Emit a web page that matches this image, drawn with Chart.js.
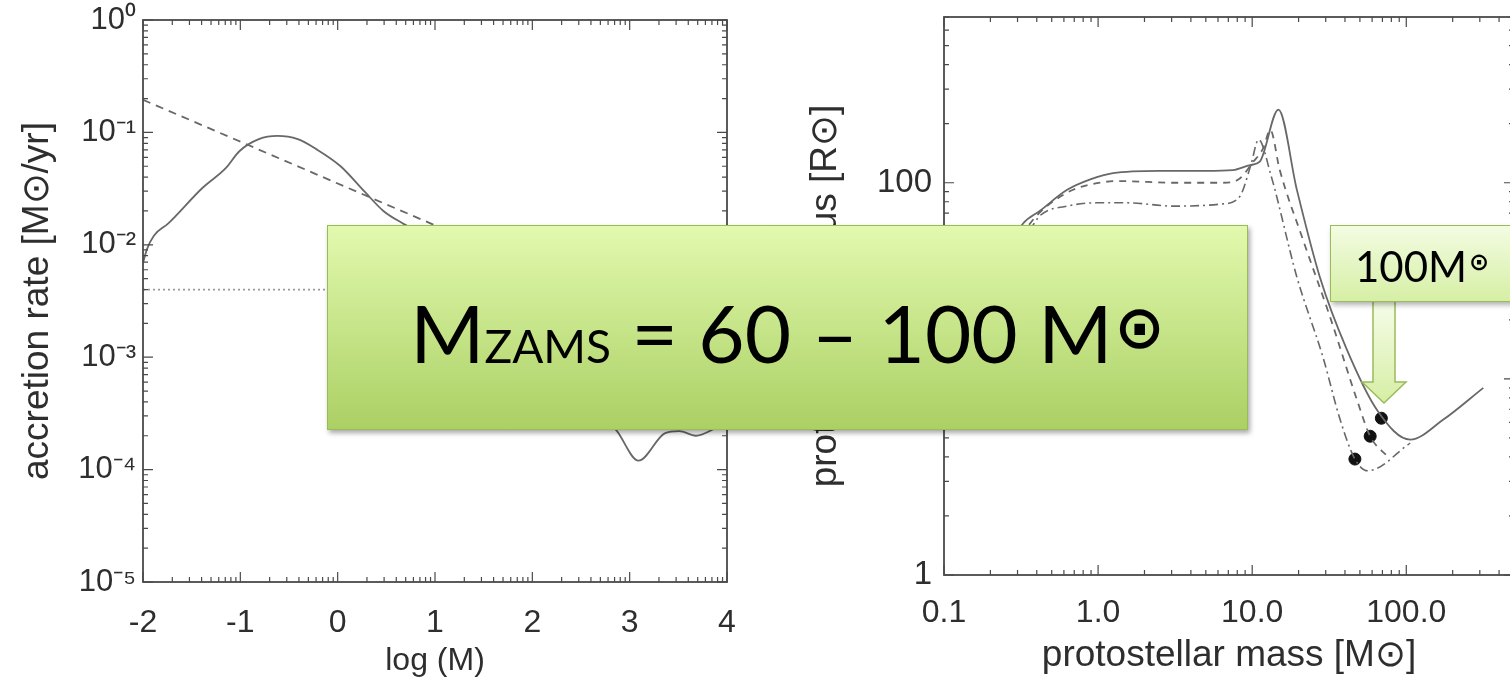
<!DOCTYPE html>
<html>
<head>
<meta charset="utf-8">
<script src="https://cdn.jsdelivr.net/npm/chart.js@4.4.1/dist/chart.umd.min.js"></script>
<style>
  html, body { margin: 0; padding: 0; background: #fff; }
  body { width: 1510px; height: 686px; overflow: hidden; position: relative; }
  #leftWrap { position: absolute; left: 0; top: 0; width: 760px; height: 686px; }
  #rightWrap { position: absolute; left: 760px; top: 0; width: 860px; height: 686px; }
  #big {
    position: absolute; left: 327px; top: 225px; width: 921px; height: 205px;
    box-sizing: border-box; border: 1.5px solid #9bbb59;
    background: linear-gradient(#e2f9ae, #abd064);
    box-shadow: 2px 3px 5px rgba(0,0,0,0.35); z-index: 5;
  }
  #big .txt {
    position: absolute; left: 0; right: 0; top: 66px; text-align: center;
    font-family: Lato, 'Open Sans', sans-serif; font-size: 80px; line-height: 80px;
    white-space: nowrap; color: #000;
  }
  #big .zams { font-size: 46px; }
  #big .sun { font-family: 'DejaVu Sans', sans-serif; font-weight: bold; font-size: 60px; position: relative; top: -15px; margin-left: 2px; }
  #small {
    position: absolute; left: 1330px; top: 225px; width: 200px; height: 77px;
    box-sizing: border-box; border: 1.5px solid #9bbb59;
    background: linear-gradient(#f3fce2, #d6efa5);
    box-shadow: 2px 3px 5px rgba(0,0,0,0.3); z-index: 6;
  }
  #small .txt {
    position: absolute; left: 24px; top: 19px;
    font-family: Lato, 'Open Sans', sans-serif; font-size: 42px; line-height: 42px;
    white-space: nowrap; color: #000;
  }
  #small .sun { font-family: 'DejaVu Sans', sans-serif; font-weight: bold; font-size: 24px; position: relative; top: -12px; margin-left: 2px; }
  #arrow { position: absolute; left: 0; top: 0; width: 1510px; height: 686px; z-index: 4; pointer-events: none; }
</style>
</head>
<body>
<div id="leftWrap"><canvas id="accretion"></canvas></div>
<div id="rightWrap"><canvas id="radius"></canvas></div>

<svg id="arrow" width="1510" height="686">
  <defs>
    <linearGradient id="ag" x1="0" y1="0" x2="0" y2="1">
      <stop offset="0" stop-color="#f6fdea"/>
      <stop offset="1" stop-color="#d6eea4"/>
    </linearGradient>
  </defs>
  <polygon points="1373,300 1395,300 1395,382 1406,382 1384,403 1362,382 1373,382"
           fill="url(#ag)" stroke="#9bbb59" stroke-width="1.5"/>
</svg>

<div id="big"><div class="txt"><span>M</span><span class="zams">ZAMS</span><span> = 60 – 100 M</span><span class="sun">⊙</span></div></div>
<div id="small"><div class="txt">100M<span class="sun">⊙</span></div></div>

<script>
// left panel: accretion rate vs log(M)
const accLogM = [-2.0, -1.96, -1.89, -1.74, -1.39, -1.15, -1.01, -0.81, -0.62, -0.41, -0.22, 0.03, 0.28, 0.47, 0.67,
                 1.0, 1.5, 2.0, 2.5, 2.87, 3.09, 3.36, 3.51, 3.68, 3.91, 4.0];
const accRate = [6.9e-3, 9.1e-3, 1.2e-2, 1.55e-2, 3.2e-2, 4.8e-2, 6.8e-2, 8.7e-2, 9.3e-2, 8.7e-2, 7.1e-2, 5.0e-2, 2.95e-2, 2.0e-2, 1.55e-2,
                 1.1e-2, 4.5e-3, 1.6e-3, 5.0e-4, 2.2e-4, 1.2e-4, 2.1e-4, 2.2e-4, 2.0e-4, 2.4e-4, 2.6e-4];
const fitLogM = [-2, 4];
const fitRate = [0.195, 1.14e-3];
const constLogM = [-2, 4];
const constRate = [4e-3, 4e-3];

const leftXTicks = [-2, -1, 0, 1, 2, 3, 4];
const leftYTicks = [1e-5, 1e-4, 1e-3, 1e-2, 1e-1, 1];
const leftYLabels = ['10⁻⁵', '10⁻⁴', '10⁻³', '10⁻²', '10⁻¹', '10⁰'];

// right panel: protostellar radius vs mass
const solidMass = [0.1, 0.15, 0.2, 0.26, 0.326, 0.42, 0.63, 0.89, 1.25, 2.5, 5.0, 7.5, 9.7, 11.2, 14.8, 19.5, 27.5, 40.7, 64.9, 106, 174, 316];
const solidRad  = [12, 20, 31, 46, 62, 72, 92, 104, 112, 115, 115, 116, 123, 128, 236, 92, 33, 14.4, 6.9, 4.9, 6.2, 9.0];
const dashMass = [0.1, 0.2, 0.3, 0.4, 0.63, 0.89, 1.38, 3.09, 6.46, 8.3, 10.0, 11.8, 13.1, 15.1, 21.4, 32, 47.9, 58.3, 76];
const dashRad  = [11, 28, 50, 68, 89, 98, 102, 100, 100, 105, 126, 150, 186, 116, 51, 20.7, 7.8, 5.1, 4.0];
const dotDashMass = [0.1, 0.2, 0.3, 0.36, 0.42, 0.63, 0.98, 1.55, 3.09, 6.46, 8.3, 9.8, 11.0, 13.2, 19.5, 28.8, 37.2, 46.4, 56.2, 106];
const dotDashRad  = [10, 25, 45, 57, 68, 76, 79, 79, 76, 78, 85, 123, 166, 110, 33, 12.9, 6.2, 3.9, 3.4, 4.7];
const markMass = [68.9, 58.3, 46.4];
const markRad  = [6.3, 5.1, 3.9];

const rightXTicks = [0.1, 1, 10, 100];
const rightXLabels = ['0.1', '1.0', '10.0', '100.0'];
const rightYTicks = [1, 10, 100];
const rightYLabels = ['1', '10', '100'];

const pts = (xs, ys) => xs.map((x, i) => ({ x: x, y: ys[i] }));
const logMinor = (lo, hi, top) => {
    const out = [];
    for (let d = lo; d < hi; d *= 10) for (let k = 2; k <= 9; k++) if (d * k <= top) out.push(d * k);
    return out;
};
const labelFor = (ticks, labels) => v => labels[ticks.findIndex(t => Math.abs(Math.log10(t) - Math.log10(v)) < 1e-6)];

const lineColor = '#686868';
const txtColor = '#2e2e2e';
const FONT = "'Liberation Sans', Arial, sans-serif";

// inward IDL-style ticks on all four sides plus the frame
const frameTicks = {
    id: 'frameTicks',
    afterDatasetsDraw(chart, args, o) {
        const { ctx, chartArea: a } = chart;
        const xs = chart.scales.x, ys = chart.scales.y;
        ctx.save();
        ctx.strokeStyle = '#4a4a4a';
        ctx.lineWidth = 1.2;
        ctx.beginPath();
        const doX = (list, len) => list.forEach(v => {
            const p = xs.getPixelForValue(v);
            if (p < a.left - 0.5 || p > a.right + 0.5) return;
            ctx.moveTo(p, a.bottom); ctx.lineTo(p, a.bottom - len);
            ctx.moveTo(p, a.top); ctx.lineTo(p, a.top + len);
        });
        const doY = (list, len) => list.forEach(v => {
            const p = ys.getPixelForValue(v);
            if (p < a.top - 0.5 || p > a.bottom + 0.5) return;
            ctx.moveTo(a.left, p); ctx.lineTo(a.left + len, p);
            ctx.moveTo(a.right, p); ctx.lineTo(a.right - len, p);
        });
        doX(o.xMajor, 10); doX(o.xMinor, 5);
        doY(o.yMajor, 10); doY(o.yMinor, 5);
        ctx.stroke();
        ctx.lineWidth = 1.8;
        ctx.strokeRect(a.left, a.top, a.right - a.left, a.bottom - a.top);
        ctx.restore();
    }
};

const leftXMinor = [];
for (let i = -2; i < 4; i++) for (let k = 2; k <= 9; k++) leftXMinor.push(i + Math.log10(k));

new Chart(document.getElementById('accretion'), {
    type: 'scatter',
    data: {
        datasets: [
            { data: pts(accLogM, accRate), showLine: true, borderColor: lineColor, borderWidth: 1.8,
              pointRadius: 0, cubicInterpolationMode: 'monotone' },
            { data: pts(fitLogM, fitRate), showLine: true, borderColor: lineColor, borderWidth: 1.8,
              borderDash: [8, 6], pointRadius: 0 },
            { data: pts(constLogM, constRate), showLine: true, borderColor: '#9a9a9a', borderWidth: 1.8,
              borderDash: [2, 3], pointRadius: 0 }
        ]
    },
    options: {
        animation: false,
        responsive: true,
        maintainAspectRatio: false,
        layout: { padding: { top: 20, right: 33, left: 0, bottom: 0 } },
        plugins: {
            legend: { display: false },
            tooltip: { enabled: false },
            frameTicks: { xMajor: leftXTicks, xMinor: leftXMinor, yMajor: leftYTicks, yMinor: logMinor(1e-5, 1, 1) }
        },
        scales: {
            x: {
                type: 'linear', min: -2, max: 4,
                afterFit: s => { s.height = 104; s.paddingLeft = 0; s.paddingRight = 0; },
                afterBuildTicks: s => { s.ticks = leftXTicks.map(v => ({ value: v })); },
                grid: { display: false, drawTicks: false },
                border: { display: false },
                ticks: { color: txtColor, font: { family: FONT, size: 32 }, padding: 22, maxRotation: 0,
                         autoSkip: false, callback: v => String(v) },
                title: { display: true, text: 'log (M)', color: txtColor,
                         font: { family: FONT, size: 32 }, padding: { bottom: 6 } }
            },
            y: {
                type: 'logarithmic', min: 1e-5, max: 1,
                afterFit: s => { s.width = 143; s.paddingTop = 0; s.paddingBottom = 0; },
                afterBuildTicks: s => { s.ticks = leftYTicks.map(v => ({ value: v })); },
                grid: { display: false, drawTicks: false },
                border: { display: false },
                ticks: { color: txtColor, font: { family: FONT, size: 31 }, padding: 7, autoSkip: false,
                         callback: labelFor(leftYTicks, leftYLabels) },
                title: { display: true, text: 'accretion rate [M⊙/yr]', color: txtColor,
                         font: { family: FONT, size: 37 }, padding: { top: 16 } }
            }
        }
    },
    plugins: [frameTicks]
});

new Chart(document.getElementById('radius'), {
    type: 'scatter',
    data: {
        datasets: [
            { data: pts(solidMass, solidRad), showLine: true, borderColor: lineColor, borderWidth: 1.8,
              pointRadius: 0, cubicInterpolationMode: 'monotone' },
            { data: pts(dashMass, dashRad), showLine: true, borderColor: lineColor, borderWidth: 1.8,
              borderDash: [7, 6], pointRadius: 0, cubicInterpolationMode: 'monotone' },
            { data: pts(dotDashMass, dotDashRad), showLine: true, borderColor: lineColor, borderWidth: 1.6,
              borderDash: [9, 4, 2, 4], pointRadius: 0, cubicInterpolationMode: 'monotone' },
            { data: pts(markMass, markRad), showLine: false, pointRadius: 6,
              backgroundColor: '#111', borderColor: '#111' }
        ]
    },
    options: {
        animation: false,
        responsive: true,
        maintainAspectRatio: false,
        layout: { padding: { top: 17, right: 106, left: 0, bottom: 0 } },
        plugins: {
            legend: { display: false },
            tooltip: { enabled: false },
            frameTicks: { xMajor: rightXTicks, xMinor: logMinor(0.1, 1000, 500),
                          yMajor: rightYTicks, yMinor: logMinor(1, 1000, 700) }
        },
        scales: {
            x: {
                type: 'logarithmic', min: 0.1, max: 500,
                afterFit: s => { s.height = 111; s.paddingLeft = 0; s.paddingRight = 0; },
                afterBuildTicks: s => { s.ticks = rightXTicks.map(v => ({ value: v })); },
                grid: { display: false, drawTicks: false },
                border: { display: false },
                ticks: { color: txtColor, font: { family: FONT, size: 32 }, padding: 19, maxRotation: 0,
                         autoSkip: false, callback: labelFor(rightXTicks, rightXLabels) },
                title: { display: true, text: 'protostellar mass [M⊙]', color: txtColor,
                         font: { family: FONT, size: 37 }, padding: { bottom: 8 } }
            },
            y: {
                type: 'logarithmic', min: 1, max: 700,
                afterFit: s => { s.width = 184; s.paddingTop = 0; s.paddingBottom = 0; },
                afterBuildTicks: s => { s.ticks = rightYTicks.map(v => ({ value: v })); },
                grid: { display: false, drawTicks: false },
                border: { display: false },
                ticks: { color: txtColor, font: { family: FONT, size: 33 }, padding: 12, autoSkip: false,
                         callback: labelFor(rightYTicks, rightYLabels) },
                title: { display: true, text: 'protostellar radius [R⊙]', color: txtColor,
                         font: { family: FONT, size: 37 }, padding: { top: 44 } }
            }
        }
    },
    plugins: [frameTicks]
});
</script>
</body>
</html>
